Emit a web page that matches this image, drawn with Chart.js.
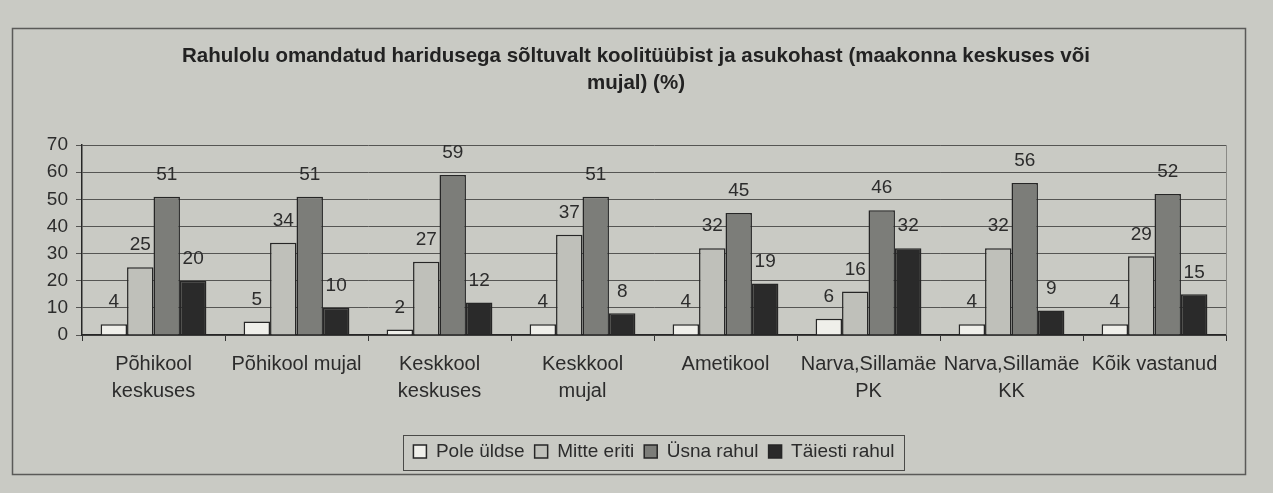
<!DOCTYPE html>
<html>
<head>
<meta charset="utf-8">
<script src="https://cdn.jsdelivr.net/npm/chart.js@4/dist/chart.umd.min.js"></script>
<style>
  html, body { margin: 0; padding: 0; background: #c9cac4; }
  #wrap { width: 1273px; height: 493px; position: relative; }
</style>
</head>
<body>
<div id="wrap"><canvas id="myChart" width="1273" height="493"></canvas></div>
<script>
// data
var categories = [
  ['Põhikool', 'keskuses'],
  'Põhikool mujal',
  ['Keskkool', 'keskuses'],
  ['Keskkool', 'mujal'],
  'Ametikool',
  ['Narva,Sillamäe', 'PK'],
  ['Narva,Sillamäe', 'KK'],
  'Kõik vastanud'
];
var seriesNames = ['Pole üldse', 'Mitte eriti', 'Üsna rahul', 'Täiesti rahul'];
var poleYldse    = [4, 5, 2, 4, 4, 6, 4, 4];
var mitteEriti   = [25, 34, 27, 37, 32, 16, 32, 29];
var usnaRahul    = [51, 51, 59, 51, 45, 46, 56, 52];
var taiestiRahul = [20, 10, 12, 8, 19, 32, 9, 15];
var yTicks = [0, 10, 20, 30, 40, 50, 60, 70];
var titleLines = [
  'Rahulolu omandatud haridusega sõltuvalt koolitüübist ja asukohast (maakonna keskuses või',
  'mujal) (%)'
];

var FONT = "Arial, 'Liberation Sans', sans-serif";
var TXT = '#2c2c2c';
var fills = ['#efefea', '#bfc0ba', '#7c7d79', '#2a2a2a'];

// page frame + background, value labels, legend box
var framePlugin = {
  id: 'frame',
  beforeDraw: function(chart) {
    var ctx = chart.ctx;
    ctx.save();
    ctx.fillStyle = '#c9cac4';
    ctx.fillRect(0, 0, chart.width, chart.height);
    ctx.strokeStyle = '#5a5a58';
    ctx.lineWidth = 1.5;
    ctx.strokeRect(12.5, 28.5, 1233, 446);
    ctx.restore();
  },
  beforeDatasetsDraw: function(chart) {
    var a = chart.chartArea, ctx = chart.ctx;
    ctx.save();
    ctx.strokeStyle = '#8a8a86';
    ctx.lineWidth = 1;
    ctx.beginPath();
    ctx.moveTo(a.right + 0.5, a.top);
    ctx.lineTo(a.right + 0.5, a.bottom);
    ctx.stroke();
    ctx.restore();
  },
  afterDatasetsDraw: function(chart) {
    var ctx = chart.ctx;
    ctx.save();
    ctx.font = '19px ' + FONT;
    ctx.fillStyle = TXT;
    ctx.textAlign = 'center';
    ctx.textBaseline = 'middle';
    chart.data.datasets.forEach(function(ds, i) {
      var meta = chart.getDatasetMeta(i);
      meta.data.forEach(function(bar, j) {
        ctx.fillText(ds.data[j], bar.x, bar.y - 22);
      });
    });
    ctx.restore();
  },
  afterDraw: function(chart) {
    var lg = chart.legend;
    if (!lg || !lg.legendHitBoxes || !lg.legendHitBoxes.length) return;
    var hb = lg.legendHitBoxes;
    var l = hb[0].left, r = hb[hb.length - 1].left + hb[hb.length - 1].width;
    var cy = hb[0].top + hb[0].height / 2;
    var ctx = chart.ctx;
    ctx.save();
    ctx.strokeStyle = '#4a4a48';
    ctx.lineWidth = 1;
    ctx.strokeRect(Math.round(l - 10) + 0.5, Math.round(cy - 17) + 0.5, Math.round(r - l + 20), 35);
    ctx.restore();
  }
};

var ctx = document.getElementById('myChart').getContext('2d');
var myChart = new Chart(ctx, {
  type: 'bar',
  data: {
    labels: categories,
    datasets: [
      { label: seriesNames[0], data: poleYldse, backgroundColor: fills[0] },
      { label: seriesNames[1], data: mitteEriti, backgroundColor: fills[1] },
      { label: seriesNames[2], data: usnaRahul, backgroundColor: fills[2] },
      { label: seriesNames[3], data: taiestiRahul, backgroundColor: fills[3] }
    ].map(function(d) {
      d.borderColor = '#262626';
      d.borderWidth = 1.5;
      d.barPercentage = 1;
      d.categoryPercentage = 0.74;
      return d;
    })
  },
  plugins: [framePlugin],
  options: {
    responsive: false,
    animation: false,
    layout: { padding: { left: 46, right: 47, top: 43, bottom: 22 } },
    plugins: {
      title: {
        display: true,
        text: titleLines,
        color: '#222',
        font: { family: FONT, size: 20.5, weight: 'bold', lineHeight: 1.32 },
        padding: { top: 0, bottom: 48 }
      },
      legend: {
        position: 'bottom',
        fullSize: false,
        labels: {
          color: TXT,
          font: { family: FONT, size: 19 },
          boxWidth: 13,
          boxHeight: 13,
          padding: 10
        }
      },
      tooltip: { enabled: false }
    },
    scales: {
      x: {
        afterFit: function(scale) { scale.height = 97; },
        grid: { drawOnChartArea: false, drawTicks: true, tickLength: 6, color: '#333' },
        border: { color: '#262626', width: 1.5 },
        ticks: {
          color: TXT,
          padding: 10,
          maxRotation: 0,
          autoSkip: false,
          font: { family: FONT, size: 20, lineHeight: 1.35 }
        }
      },
      y: {
        min: 0,
        max: 70,
        afterFit: function(scale) { scale.width = 36; },
        afterBuildTicks: function(scale) {
          scale.ticks = yTicks.map(function(v) { return { value: v }; });
        },
        grid: { color: '#555553', lineWidth: 1, tickLength: 6 },
        border: { color: '#262626', width: 1.5 },
        ticks: {
          color: TXT,
          padding: 8,
          font: { family: FONT, size: 19 }
        }
      }
    }
  }
});
</script>
</body>
</html>
